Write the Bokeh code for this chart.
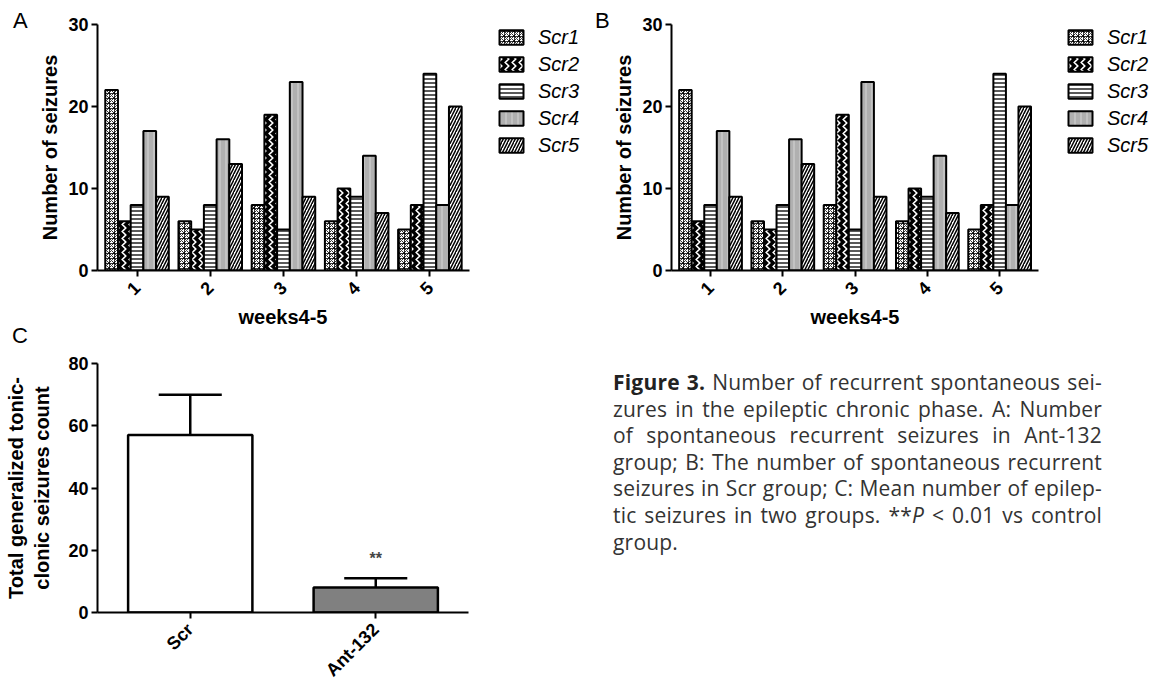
import numpy as np
from bokeh.plotting import figure
from bokeh.models import FixedTicker, Legend, LegendItem, Div, Range1d, ColumnDataSource, Title
from bokeh.layouts import row, column
from bokeh.embed import file_html
from bokeh.resources import INLINE
from bokeh.core.properties import value

# ---------------- data ----------------
weeks = ["1", "2", "3", "4", "5"]
series_names = ["Scr1", "Scr2", "Scr3", "Scr4", "Scr5"]

# Panel A: spontaneous recurrent seizures (Ant-132 group), per week, per animal
a_scr1 = [22, 6, 8, 6, 5]
a_scr2 = [6, 5, 19, 10, 8]
a_scr3 = [8, 8, 5, 9, 24]
a_scr4 = [17, 16, 23, 14, 8]
a_scr5 = [9, 13, 9, 7, 20]

# Panel B: spontaneous recurrent seizures (Scr group)
b_scr1 = [22, 6, 8, 6, 5]
b_scr2 = [6, 5, 19, 10, 8]
b_scr3 = [8, 8, 5, 9, 24]
b_scr4 = [17, 16, 23, 14, 8]
b_scr5 = [9, 13, 9, 7, 20]

ab_yticks = [0, 10, 20, 30]

# Panel C: total generalized tonic-clonic seizures
c_groups = ["Scr", "Ant-132"]
c_mean = [57, 8]
c_err = [13, 3]
c_marks = ["", "**"]
c_yticks = [0, 20, 40, 60, 80]

FONT = "Liberation Sans"

# ---------------- styles ----------------
bar_styles = [
    dict(fill_color="white", hatch_pattern="criss_cross", hatch_color="black", hatch_scale=5, hatch_weight=0.8),
    dict(fill_color="black", hatch_pattern="vertical_wave", hatch_color="white", hatch_scale=7, hatch_weight=1.6),
    dict(fill_color="white", hatch_pattern="horizontal_line", hatch_color="black", hatch_scale=4, hatch_weight=1.3),
    dict(fill_color="#b0b0b0", hatch_pattern="vertical_line", hatch_color="#d6d6d6", hatch_scale=6, hatch_weight=1),
    dict(fill_color="white", hatch_pattern="right_diagonal_line", hatch_color="black", hatch_scale=6, hatch_weight=1.5),
]
BW = 0.1736
X_LO, X_HI = 0.46, 5.54


def style_axes(p):
    for ax in (p.xaxis[0], p.yaxis[0]):
        ax.axis_line_width = 2
        ax.axis_line_color = "black"
        ax.major_tick_line_width = 2
        ax.major_tick_line_color = "black"
        ax.major_tick_out = 6
        ax.major_tick_in = 0
        ax.minor_tick_line_color = None
        ax.major_label_text_font = FONT
        ax.major_label_text_font_style = "bold"
        ax.major_label_text_font_size = "18px"
        ax.major_label_text_color = "black"
        ax.axis_label_text_font = FONT
        ax.axis_label_text_font_style = "bold"
        ax.axis_label_text_font_size = "20px"
        ax.axis_label_text_color = "black"
    p.xgrid.visible = False
    p.ygrid.visible = False
    p.outline_line_color = None
    p.background_fill_color = "white"
    p.border_fill_color = "white"


def letter_div(letter, width, height, left, top, lh):
    html = ("<div style=\"padding-left:%dpx;padding-top:%dpx;font-family:'Liberation Sans';"
            "font-size:22px;line-height:%dpx;color:black;\">%s</div>") % (left, top, lh, letter)
    return Div(text=html, width=width, height=height, margin=0)


def grouped_panel(series, width, left, axis_px, legend_dx, title_dx):
    # frame runs to the figure's right edge so the key sits inside it; the x axis is bounded
    frame_w = width - left
    x_hi_view = X_LO + frame_w * (X_HI - X_LO) / axis_px
    p = figure(width=width, height=328, output_backend="svg", toolbar_location=None,
               x_range=Range1d(X_LO, x_hi_view), y_range=Range1d(0, 30),
               min_border_left=left, min_border_right=0,
               min_border_top=24, min_border_bottom=58)
    style_axes(p)
    xs = np.arange(1, len(weeks) + 1)
    items = []
    for i, (name, vals) in enumerate(zip(series_names, series)):
        r = p.vbar(x=xs + (i - 2) * BW, top=vals, width=BW, bottom=0,
                   line_color="black", line_width=2, **bar_styles[i])
        items.append(LegendItem(label=name, renderers=[r]))
    p.xaxis.bounds = (X_LO, X_HI)
    p.xaxis.ticker = FixedTicker(ticks=list(xs))
    p.xaxis.major_label_overrides = {int(x): w for x, w in zip(xs, weeks)}
    p.xaxis.major_label_orientation = np.pi / 4
    p.xaxis.major_label_standoff = 8
    p.add_layout(Title(text="weeks4-5", align="left", offset=title_dx, standoff=0,
                       text_font=FONT, text_font_size="20px", text_font_style="bold",
                       text_color="black"), "below")
    p.yaxis.ticker = FixedTicker(ticks=ab_yticks)
    p.yaxis.major_label_standoff = 3
    p.yaxis.axis_label = "Number of seizures"
    p.yaxis.axis_label_standoff = 4

    leg = Legend(items=items, location=(legend_dx, 113), margin=0, padding=0,
                 border_line_color=None, background_fill_alpha=0,
                 glyph_width=30, glyph_height=18, label_height=24, spacing=3,
                 label_standoff=12, label_text_font=FONT, label_text_font_style="italic",
                 label_text_font_size="20px", label_text_color="black")
    p.add_layout(leg, "center")
    return p


sA = [a_scr1, a_scr2, a_scr3, a_scr4, a_scr5]
sB = [b_scr1, b_scr2, b_scr3, b_scr4, b_scr5]
divA = letter_div("A", 36, 328, 13, 10, 22)
pA = grouped_panel(sA, 544, 57, 375, 399, 141)
divB = letter_div("B", 30, 328, 15, 10, 22)
pB = grouped_panel(sB, 541, 56, 371, 394, 139)

# ---------------- panel C ----------------
divC = letter_div("C", 560, 24, 12, 1, 14)
pC = figure(width=560, height=338, output_backend="svg", toolbar_location=None,
            x_range=Range1d(0.5, 2.5), y_range=Range1d(0, 80),
            min_border_left=97, min_border_right=92, min_border_top=11, min_border_bottom=77)
style_axes(pC)
cx = np.arange(1, len(c_groups) + 1)
mean = np.array(c_mean, dtype=float)
err = np.array(c_err, dtype=float)
src = ColumnDataSource(dict(x=cx, top=mean, upper=mean + err, color=["white", "#808080"],
                            cap0=cx - 0.17, cap1=cx + 0.17, marks=c_marks, my=mean + err + 6.5))
pC.segment(x0="x", y0="top", x1="x", y1="upper", source=src, line_color="black", line_width=2.5)
pC.segment(x0="cap0", y0="upper", x1="cap1", y1="upper", source=src, line_color="black", line_width=2.5)
pC.vbar(x="x", top="top", width=0.67, bottom=0, source=src, fill_color="color",
        line_color="black", line_width=2.5)
pC.text(x="x", y="my", text="marks", source=src, text_align="center", text_baseline="middle",
        text_font=value(FONT), text_font_style="bold", text_font_size="16px", text_color="#444444")
pC.xaxis.ticker = FixedTicker(ticks=list(cx))
pC.xaxis.major_label_overrides = {int(x): g for x, g in zip(cx, c_groups)}
pC.xaxis.major_label_orientation = np.pi / 4
pC.xaxis.major_label_standoff = 8
pC.yaxis.ticker = FixedTicker(ticks=c_yticks)
pC.yaxis.major_label_standoff = 3
pC.yaxis.axis_label = "Total generalized tonic-\nclonic seizures count"
pC.yaxis.axis_label_standoff = 12

# ---------------- caption ----------------
cap_lines = [
    "<b style='color:#222'>Figure 3.</b> Number of recurrent spontaneous sei-",
    "zures in the epileptic chronic phase. A: Number",
    "of spontaneous recurrent seizures in Ant-132",
    "group; B: The number of spontaneous recurrent",
    "seizures in Scr group; C: Mean number of epilep-",
    "tic seizures in two groups. **<i>P</i> &lt; 0.01 vs control",
]
last_line = "group."
html = "<div style=\"padding-left:53px;padding-top:41px;\">" \
       "<div style=\"width:489px;font-family:'Open Sans';" \
       "font-size:21px;letter-spacing:0.2px;line-height:26.6px;color:#333333;\">"
for ln in cap_lines:
    html += "<div style='text-align:justify;text-align-last:justify;'>" + ln + "</div>"
html += "<div style='text-align:left;'>" + last_line + "</div></div></div>"
cap = Div(text=html, width=591, height=362, margin=0)

layout = column(row(divA, pA, divB, pB), row(column(divC, pC), cap))
open("out.html", "w").write(file_html(layout, INLINE))
